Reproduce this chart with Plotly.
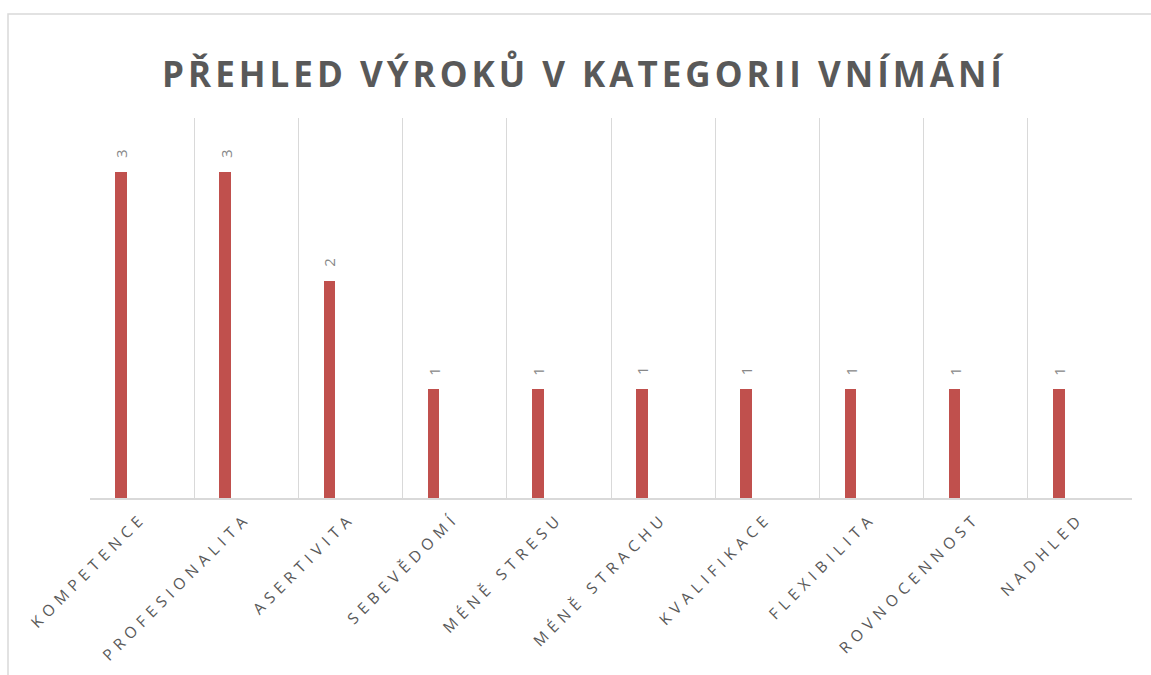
import plotly.graph_objects as go

categories = ["KOMPETENCE", "PROFESIONALITA", "ASERTIVITA", "SEBEVĚDOMÍ", "MÉNĚ STRESU",
              "MÉNĚ STRACHU", "KVALIFIKACE", "FLEXIBILITA", "ROVNOCENNOST", "NADHLED"]
values = [3, 3, 2, 1, 1, 1, 1, 1, 1, 1]
title_text = "PŘEHLED VÝROKŮ V KATEGORII VNÍMÁNÍ"

BAR_W = 0.112
BAR_OFF = -0.259

fig = go.Figure()
fig.add_trace(go.Bar(
    x=categories, y=values,
    marker=dict(color="#C0504D", line=dict(width=0)),
    width=BAR_W, offset=BAR_OFF,
    hoverinfo="x+y",
))

annotations = []
for c, v in zip(categories, values):
    annotations.append(dict(
        x=c, y=v, xref="x", yref="y", text=str(v), showarrow=False,
        textangle=-90, xanchor="center", yanchor="bottom",
        xshift=-21, yshift=12,
        font=dict(family="Open Sans", size=15, color="#888888"),
    ))

fig.update_layout(
    width=1151, height=675,
    margin=dict(l=90, r=19, t=118, b=177),
    paper_bgcolor="white", plot_bgcolor="white",
    showlegend=False,
    title=dict(text=title_text, x=0.5074, xanchor="center", y=0.889, yanchor="middle",
               font=dict(family="Open Sans", size=35, color="#595959", weight="bold")),
    xaxis=dict(
        tickangle=-45, tickson="boundaries", showgrid=True, gridcolor="#D9D9D9", gridwidth=1,
        showline=True, linecolor="#D9D9D9", linewidth=1.5, ticks="",
        tickfont=dict(family="Open Sans", size=15.5, color="#595959"),
        ticklabelstandoff=3,
    ),
    yaxis=dict(range=[0, 3.5], visible=False, showgrid=False, zeroline=False),
    bargap=0,
    annotations=annotations,
    shapes=[dict(type="rect", xref="paper", yref="paper", x0=-0.0787, x1=1.1, y0=-0.6, y1=1.2737,
                 line=dict(color="#D9D9D9", width=1.5), fillcolor="rgba(0,0,0,0)", layer="below")],
)

post = """
document.body.style.margin = '0';
document.querySelectorAll('.xtick text').forEach(function(t){ t.style.letterSpacing = '5.5px'; });
document.querySelectorAll('.gtitle').forEach(function(t){ t.style.letterSpacing = '4px'; });
"""

fig.write_html("out.html", post_script=post, config={"displayModeBar": False})
